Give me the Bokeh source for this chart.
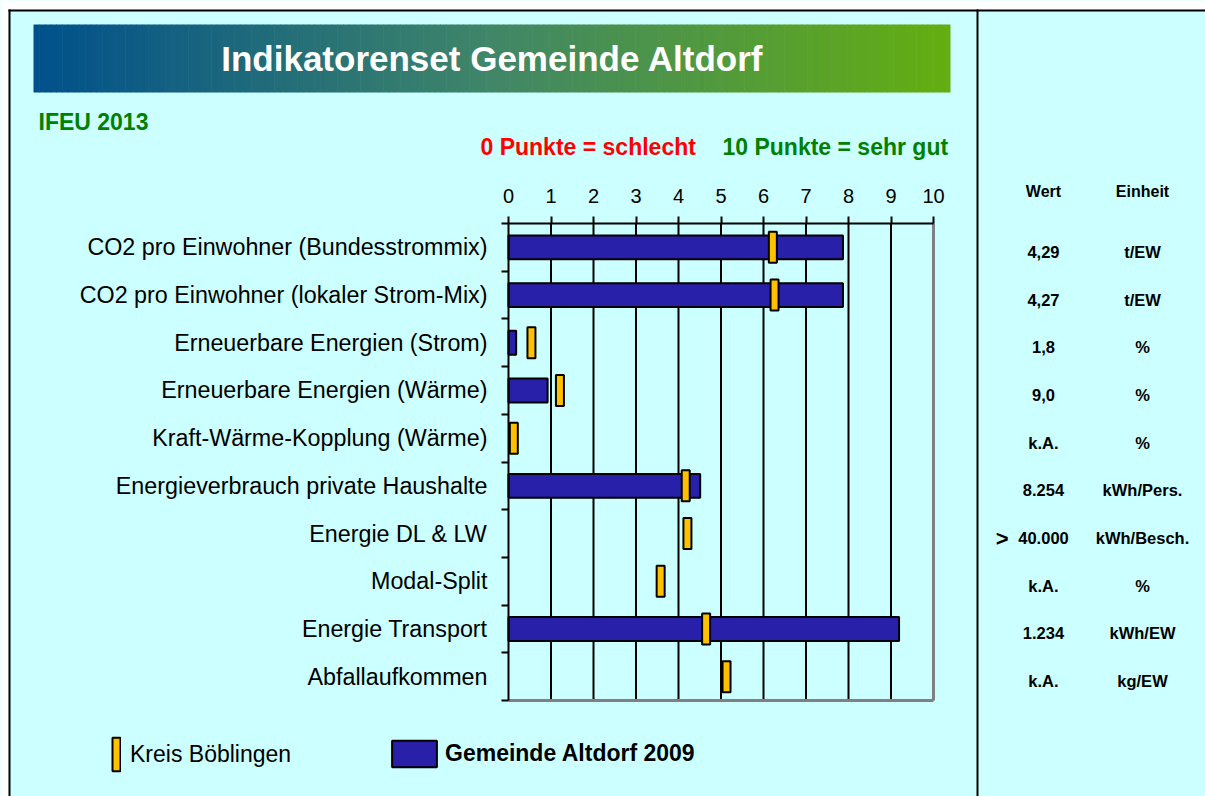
from bokeh.plotting import figure
from bokeh.models import (Range1d, FixedTicker, Label, LabelSet, BoxAnnotation,
                          ColumnDataSource, Legend, LegendItem)
from bokeh.core.properties import value
from bokeh.embed import file_html
from bokeh.resources import INLINE

# ---------------- data ----------------
categories = [
    "CO2 pro Einwohner (Bundesstrommix)",
    "CO2 pro Einwohner (lokaler Strom-Mix)",
    "Erneuerbare Energien (Strom)",
    "Erneuerbare Energien (Wärme)",
    "Kraft-Wärme-Kopplung (Wärme)",
    "Energieverbrauch private Haushalte",
    "Energie DL & LW",
    "Modal-Split",
    "Energie Transport",
    "Abfallaufkommen",
]
gemeinde_2009 = [7.87, 7.87, 0.18, 0.92, float("nan"), 4.51, float("nan"), float("nan"), 9.19, float("nan")]
kreis_boeblingen = [6.22, 6.26, 0.54, 1.21, 0.125, 4.17, 4.21, 3.58, 4.65, 5.13]
wert_prefix = ["", "", "", "", "", "", ">", "", "", ""]
wert = ["4,29", "4,27", "1,8", "9,0", "k.A.", "8.254", "40.000", "k.A.", "1.234", "k.A."]
einheit = ["t/EW", "t/EW", "%", "%", "%", "kWh/Pers.", "kWh/Besch.", "%", "kWh/EW", "kg/EW"]
x_ticks = [0, 1, 2, 3, 4, 5, 6, 7, 8, 9, 10]

# ---------------- layout (canvas pixels) ----------------
W, H = 1205, 796
FL, FR, FT, FB = 508, 933, 223, 700   # chart area
n = len(categories)
FONT = "Liberation Sans"
CYAN = "#CCFFFF"


def DX(px):
    return (px - FL) / (FR - FL) * 10.0


def DY(py):
    return (FB - py) / (FB - FT) * n - 0.5


ypos = [n - 1 - i for i in range(n)]
src = ColumnDataSource(dict(cat=categories, y=ypos, gem=gemeinde_2009, kreis=kreis_boeblingen,
                            pre=wert_prefix, wert=wert, einheit=einheit))

p = figure(width=W, height=H, x_range=Range1d(DX(0), DX(W)), y_range=Range1d(DY(H), DY(0)),
           x_axis_location="above", output_backend="svg", toolbar_location=None,
           min_border=0)
p.background_fill_color = CYAN
p.border_fill_color = CYAN
p.outline_line_color = None
p.xgrid.visible = False
p.ygrid.visible = False

# x axis (top of chart area)
xa = p.xaxis[0]
xa.fixed_location = n - 0.5
xa.bounds = (0, 10)
xa.ticker = FixedTicker(ticks=x_ticks)
xa.axis_line_color = "black"
xa.axis_line_width = 2
xa.major_tick_line_color = "black"
xa.major_tick_line_width = 2
xa.major_tick_out = 7
xa.major_tick_in = 0
xa.minor_tick_line_color = None
xa.major_label_text_font = FONT
xa.major_label_text_font_size = "20px"
xa.major_label_text_color = "black"
xa.major_label_standoff = 14

# y axis (categories, ticks at row boundaries)
ya = p.yaxis[0]
ya.fixed_location = 0
ya.bounds = (-0.5, n - 0.5)
ya.ticker = FixedTicker(ticks=ypos, minor_ticks=[k - 0.5 for k in range(n + 1)])
ya.major_label_overrides = {y: c for y, c in zip(ypos, categories)}
ya.axis_line_color = "black"
ya.axis_line_width = 2
ya.major_tick_line_color = None
ya.major_tick_out = 0
ya.major_tick_in = 0
ya.minor_tick_line_color = "black"
ya.minor_tick_line_width = 2
ya.minor_tick_out = 7
ya.minor_tick_in = 0
ya.major_label_text_font = FONT
ya.major_label_text_font_size = "23.3px"
ya.major_label_text_color = "black"
ya.major_label_standoff = 14

# vertical grid lines and grey plot-area border
grid_x = x_ticks[1:-1]
p.segment(x0=grid_x, y0=[-0.5] * len(grid_x), x1=grid_x, y1=[n - 0.5] * len(grid_x),
          line_color="black", line_width=2)
p.segment(x0=[x_ticks[-1], x_ticks[0]], y0=[n - 0.5, -0.5], x1=[x_ticks[-1], x_ticks[-1]],
          y1=[-0.5, -0.5], line_color="#808080", line_width=3)

# bars and markers
r_gem = p.hbar(y="y", left=0, right="gem", height=0.5, source=src,
               fill_color="#2820A8", line_color="black", line_width=2)
r_kreis = p.rect(x="kreis", y="y", width=8, height=31, width_units="screen", height_units="screen",
                 source=src, fill_color="#FFC000", line_color="black", line_width=2)


# ---------------- decorations ----------------
def box(x0, x1, y0, y1, color):
    p.add_layout(BoxAnnotation(left=DX(x0), right=DX(x1), top=DY(y0), bottom=DY(y1),
                               fill_color=color, fill_alpha=1.0, line_color=None,
                               level="underlay"))


def lerp(c0, c1, t):
    return tuple(int(round(a + (b - a) * t)) for a, b in zip(c0, c1))


stops = [(0, 80, 140), (64, 134, 104), (100, 174, 16)]
bx0, bx1, by0, by1 = 33, 950, 24, 92
N = 160
for k in range(N):
    t = (k + 0.5) / N
    c = lerp(stops[0], stops[1], t / 0.5) if t <= 0.5 else lerp(stops[1], stops[2], (t - 0.5) / 0.5)
    xa0 = bx0 + (bx1 - bx0) * k / N
    xa1 = min(bx0 + (bx1 - bx0) * (k + 1) / N + 0.6, bx1)
    box(xa0, xa1, by0, by1, "#%02x%02x%02x" % c)

# outer frame borders
box(0, 8, 0, H + 5, "white")
box(0, W + 5, 0, 9, "white")
box(8, 10, 9, H + 5, "black")
box(8, W + 5, 9, 11, "black")
box(976, 978, 9, H + 5, "black")


def label(px, py, text, size, color="black", style="normal", align="left"):
    p.add_layout(Label(x=DX(px), y=DY(py), text=text, text_font=FONT, text_font_size=size,
                       text_color=color, text_font_style=style, text_align=align,
                       text_baseline="middle"))


label(492, 58, "Indikatorenset Gemeinde Altdorf", "35px", "white", "bold", "center")
label(38, 121, "IFEU 2013", "23px", "#008000", "bold")
label(480, 146, "0 Punkte = schlecht", "23px", "#FF0000", "bold")
label(722, 146, "10 Punkte = sehr gut", "23px", "#008000", "bold")
label(1043, 191, "Wert", "16px", "black", "bold", "center")
label(1142, 191, "Einheit", "16px", "black", "bold", "center")

common = dict(source=src, y="y", y_offset=-4.5, text_font=value(FONT),
              text_font_style="bold", text_color="black", text_baseline="middle")
p.add_layout(LabelSet(x=DX(1008), text="pre", text_align="right", text_font_size="22px", **common))
p.add_layout(LabelSet(x=DX(1043), text="wert", text_align="center", text_font_size="16.5px", **common))
p.add_layout(LabelSet(x=DX(1142), text="einheit", text_align="center", text_font_size="16.5px", **common))

# legends
leg1 = Legend(items=[LegendItem(label="Kreis Böblingen", renderers=[r_kreis])],
              location=(111, H - 775), glyph_width=10, glyph_height=42, label_standoff=9,
              label_text_font=FONT, label_text_font_size="23px", label_text_color="black",
              border_line_color=None, background_fill_alpha=0, margin=0, padding=0, spacing=0)
leg2 = Legend(items=[LegendItem(label="Gemeinde Altdorf 2009", renderers=[r_gem])],
              location=(386, H - 770), glyph_width=56, glyph_height=33, label_standoff=3,
              label_text_font=FONT, label_text_font_size="23px", label_text_font_style="bold",
              label_text_color="black",
              border_line_color=None, background_fill_alpha=0, margin=0, padding=0, spacing=0)
p.add_layout(leg1, "center")
p.add_layout(leg2, "center")

open("out.html", "w").write(file_html(p, INLINE))
